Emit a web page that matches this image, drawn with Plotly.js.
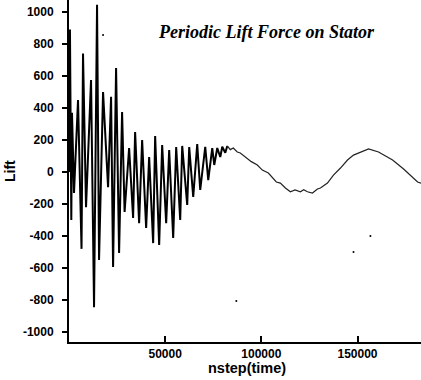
<!DOCTYPE html>
<html>
<head>
<meta charset="utf-8">
<script src="https://cdn.plot.ly/plotly-3.0.1.min.js"></script>
<style>html,body{margin:0;padding:0;background:#fff;}#chart{width:421px;height:380px;}</style>
</head>
<body>
<div id="chart"></div>
<script>
// nstep values (time) of the lift trace
var nstep = [0, 500, 1200, 1562, 2604, 4687, 6510, 7291, 8854, 11458, 13020, 14582, 15624,
  17707, 20311, 21874, 22915, 24478, 26040, 27602, 28904, 31248, 33331, 34373, 36456,
  38018, 40102, 41664, 43747, 44789, 46872, 48434, 50518, 52080, 54163, 55726, 57809,
  58850, 61454, 62496, 64579, 66662, 68225, 70829, 72391, 74474, 75516, 77078, 78641,
  79682, 81245, 82286, 83849, 85411, 87494, 89057, 91661, 94786, 97910, 100514, 103638,
  107804, 109888, 112500, 115096, 117500, 120304, 122000, 123950, 126554, 129158, 130720,
  134366, 137491, 141137, 144782, 147907, 151553, 155719, 160927, 168218, 173947, 181238, 183000];
// Lift values
var lift = [0, 890, -300, 370, -130, 450, -480, 740, -220, 575, -845, 1045, -550,
  500, -95, 470, -594, 650, -506, 375, -250, 150, -287, 250, -320,
  200, -350, 94, -444, 225, -456, 169, -320, 138, -412, 156, -300,
  163, -206, 156, -156, 175, -112, 158, -50, 150, 44, 150, 94,
  158, 120, 163, 140, 150, 125, 119, 94, 65, 44, 12, -6,
  -62, -69, -100, -123, -112, -123, -110, -123, -131, -106, -100,
  -69, -19, 25, 75, 106, 125, 144, 125, 75, 19, -62, -70];
// stray specks in the picture
var speckX = [17700, 87000, 147900, 156700];
var speckY = [856, -806, -500, -400];

var yTicks = [1000, 800, 600, 400, 200, 0, -200, -400, -600, -800, -1000];
var yTickText = ["1000", "800", "600", "400", "200", "0", "-200", "-400", "-600", "-800", "-1000"];
var xTicks = [50000, 100000, 150000];
var xTickText = ["50000", "100000", "150000"];

var split = 52; // index where the oscillation settles into the slow wave
var tickFont = {family: "Liberation Sans, Arial, sans-serif", size: 12, color: "#000", weight: "bold"};

var data = [
  {x: nstep.slice(0, split), y: lift.slice(0, split), type: "scatter", mode: "lines",
   line: {color: "#000", width: 2}, hoverinfo: "none"},
  {x: nstep.slice(split - 1), y: lift.slice(split - 1), type: "scatter", mode: "lines",
   line: {color: "#222", width: 1.2}, hoverinfo: "none"},
  {x: speckX, y: speckY, type: "scatter", mode: "markers",
   marker: {color: "#000", size: 2}, hoverinfo: "none"}
];

var layout = {
  width: 421, height: 380,
  margin: {l: 69, r: 0, t: 0, b: 38},
  paper_bgcolor: "#fff", plot_bgcolor: "#fff",
  showlegend: false,
  xaxis: {
    range: [0, 183000], showgrid: false, zeroline: false,
    showline: true, linecolor: "#000", linewidth: 2,
    ticks: "inside", ticklen: 6, tickwidth: 2, tickcolor: "#000",
    tickvals: xTicks, ticktext: xTickText, tickfont: tickFont
  },
  yaxis: {
    range: [-1062, 1075], showgrid: false, zeroline: false,
    showline: true, linecolor: "#000", linewidth: 2,
    ticks: "outside", ticklen: 5, tickwidth: 2, tickcolor: "#000",
    tickvals: yTicks, ticktext: yTickText, tickfont: tickFont,
    ticklabelstandoff: 6
  },
  annotations: [
    {text: "Periodic Lift Force on Stator", xref: "paper", yref: "paper",
     x: (266 - 69) / 352, y: 1 - 32 / 342, xanchor: "center", yanchor: "middle",
     showarrow: false,
     font: {family: "Liberation Serif, Times New Roman, serif", size: 18, style: "italic", weight: "bold", color: "#000"}},
    {text: "nstep(time)", xref: "paper", yref: "paper",
     x: (247 - 69) / 352, y: -(368 - 342) / 342, xanchor: "center", yanchor: "middle",
     showarrow: false,
     font: {family: "Liberation Sans, Arial, sans-serif", size: 14.5, weight: "bold", color: "#000"}},
    {text: "Lift", xref: "paper", yref: "paper",
     x: -(69 - 10) / 352, y: 0.5, xanchor: "center", yanchor: "middle", textangle: -90,
     showarrow: false,
     font: {family: "Liberation Sans, Arial, sans-serif", size: 14, weight: "bold", color: "#000"}}
  ]
};

Plotly.newPlot("chart", data, layout, {staticPlot: true, displayModeBar: false});
</script>
</body>
</html>
